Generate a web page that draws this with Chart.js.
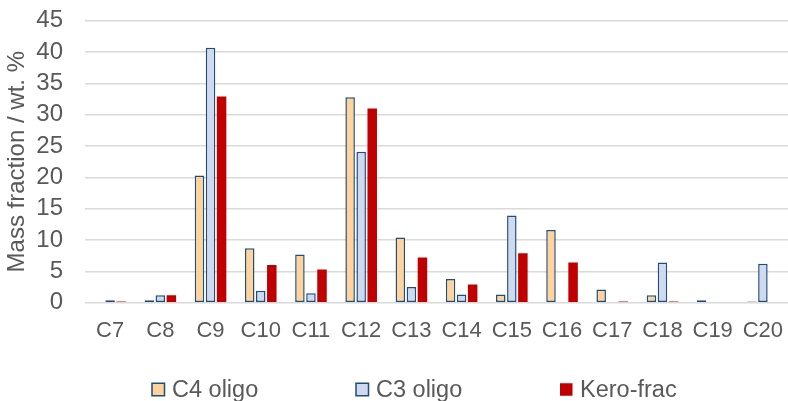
<!DOCTYPE html>
<html>
<head>
<meta charset="utf-8">
<script src="https://cdn.jsdelivr.net/npm/chart.js@4"></script>
<style>
  html, body { margin: 0; padding: 0; background: #fff; }
  #wrap { width: 788px; height: 401px; position: relative; }
</style>
</head>
<body>
<div id="wrap"><canvas id="chart"></canvas></div>
<script>
const categories = ['C7', 'C8', 'C9', 'C10', 'C11', 'C12', 'C13', 'C14', 'C15', 'C16', 'C17', 'C18', 'C19', 'C20'];
const c4Oligo = [0, 0.4, 20.3, 8.7, 7.7, 32.8, 10.4, 3.8, 1.3, 11.6, 2.1, 1.2, 0.4, 0.2];
const c3Oligo = [0.4, 1.2, 40.7, 1.9, 1.5, 24.1, 2.5, 1.3, 13.9, 0, 0, 6.4, 0, 6.2];
const keroFrac = [0.2, 1.2, 32.9, 6.0, 5.3, 31.0, 7.2, 2.9, 7.9, 6.4, 0.2, 0.2, 0, 0];
const yTicks = [0, 5, 10, 15, 20, 25, 30, 35, 40, 45];

const font = 'Liberation Sans, Arial, sans-serif';
const textColor = '#595959';
const outline = '#1F4E79';

// legend with evenly spaced slots, drawn under the x labels
const slotLegend = {
    id: 'slotLegend',
    afterDraw(chart) {
        const ctx = chart.ctx;
        const slot = 204, box = 12.5;
        const y = 389.5;
        const sets = chart.data.datasets;
        const x0 = chart.width / 2 - (sets.length * slot) / 2 + 64;
        ctx.save();
        ctx.font = '23.5px ' + font;
        ctx.textBaseline = 'middle';
        ctx.textAlign = 'left';
        sets.forEach((ds, i) => {
            const bx = x0 + i * slot;
            ctx.fillStyle = ds.backgroundColor;
            ctx.fillRect(bx, y - box / 2, box, box);
            if (ds.borderWidth) {
                ctx.strokeStyle = ds.borderColor;
                ctx.lineWidth = 1.5;
                ctx.strokeRect(bx, y - box / 2, box, box);
            }
            ctx.fillStyle = textColor;
            ctx.fillText(ds.label, bx + box + 7.5, y + 1);
        });
        ctx.restore();
    }
};

new Chart(document.getElementById('chart'), {
    type: 'bar',
    data: {
        labels: categories,
        datasets: [
            { label: 'C4 oligo', data: c4Oligo, backgroundColor: '#FFD39B', borderColor: outline, borderWidth: 1.5, borderSkipped: false },
            { label: 'C3 oligo', data: c3Oligo, backgroundColor: '#CFD9EF', borderColor: outline, borderWidth: 1.5, borderSkipped: false },
            { label: 'Kero-frac', data: keroFrac, backgroundColor: '#C00000', borderColor: '#C00000', borderWidth: 0 }
        ]
    },
    plugins: [slotLegend],
    options: {
        responsive: true,
        maintainAspectRatio: false,
        animation: false,
        datasets: { bar: { categoryPercentage: 0.66, barPercentage: 0.86 } },
        layout: { padding: { top: 20.7, right: 0, bottom: 0, left: 0 } },
        plugins: {
            tooltip: { enabled: false },
            legend: { display: false }
        },
        scales: {
            x: {
                afterFit: (axis) => {
                    axis.height = 401 - 20.7 - 282;
                    axis.paddingLeft = 0;
                    axis.paddingRight = 0;
                },
                grid: { display: false, drawTicks: false },
                border: { display: false },
                ticks: { font: { family: font, size: 22 }, color: textColor, padding: 15, maxRotation: 0, autoSkip: false }
            },
            y: {
                min: 0,
                max: 45,
                afterBuildTicks: (axis) => { axis.ticks = yTicks.map(v => ({ value: v })); },
                afterFit: (axis) => {
                    axis.width = 85;
                    axis.paddingTop = 0;
                    axis.paddingBottom = 0;
                },
                grid: { color: '#D9D9D9', lineWidth: 1.5, drawTicks: false },
                border: { display: false },
                ticks: { font: { family: font, size: 24 }, color: textColor, padding: 22, autoSkip: false },
                title: {
                    display: true,
                    text: 'Mass fraction / wt. %',
                    font: { family: font, size: 24 },
                    color: textColor,
                    padding: { top: 3, bottom: 0 }
                }
            }
        }
    }
});
</script>
</body>
</html>
